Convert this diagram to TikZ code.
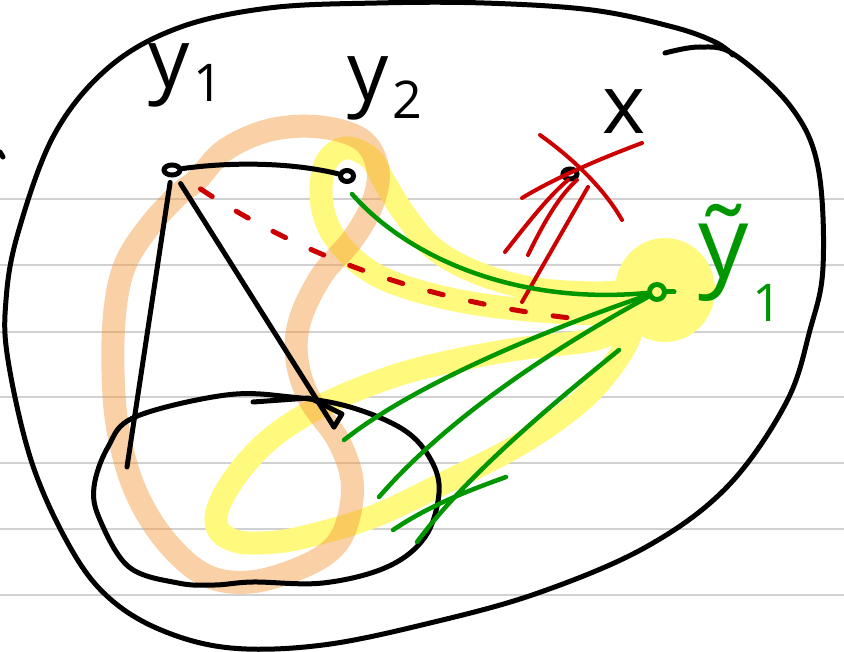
\documentclass[tikz,border=0pt]{standalone}
\usepackage{fontspec}
\setmainfont{Open Sans}
\usetikzlibrary{calc, positioning}
\usetikzlibrary{arrows.meta}
\usetikzlibrary{shapes.geometric}
\definecolor{inkgreen}{RGB}{0,150,0}
\definecolor{inkred}{RGB}{204,0,0}
\definecolor{hlyellow}{RGB}{255,250,125}
\definecolor{hlorange}{RGB}{245,150,60}
\newcommand{\lowsub}[2][14pt]{\hspace{4pt}\raisebox{-#1}{\fontsize{52}{52}\selectfont #2}}

\begin{document}
\begin{tikzpicture}[x=1pt, y=-1pt,
  ink/.style={line width=5pt, line cap=round, line join=round},
  dot/.style={ellipse, draw, line width=5pt, inner sep=0pt, minimum width=16pt, minimum height=10pt},
  hilite/.style={line width=23pt, line cap=round, line join=round},
  lbl/.style={inner sep=0pt, anchor=base west, font=\fontsize{82}{82}\selectfont},
  rule/.style={black!18, line width=1.5pt}]
\useasboundingbox (0,0) rectangle (844,652);
\foreach \ry in {199,265,332,397,463,529,595}
  \draw[rule] (0,\ry) -- (844,\ry);
% highlighter
\fill[hlyellow] (665,290) ellipse [x radius=50pt, y radius=52pt];
\draw[hilite, hlyellow] plot[smooth cycle, tension=0.6] coordinates {(650,292) (590,293) (530,288) (475,272) (433,248) (405,215) (385,183) (370,158) (345,148) (325,165) (322,205) (338,242) (380,277) (455,300) (540,311) (610,312)};
\draw[hilite, hlyellow] plot[smooth cycle, tension=0.6] coordinates {(630,325) (592,340) (511,350) (430,366) (377,382) (323,405) (275,435) (242,468) (220,503) (217,527) (232,540) (258,543) (300,538) (372,517) (442,484) (520,444) (582,400) (620,355)};
\draw[hilite, hlorange, opacity=0.45] plot[smooth cycle, tension=0.6] coordinates {(197,180) (225,150) (270,130) (320,127) (362,140) (378,170) (372,205) (352,240) (322,275) (300,320) (297,360) (310,400) (338,440) (352,480) (348,520) (333,548) (300,568) (250,582) (205,575) (165,540) (135,490) (118,430) (113,370) (115,310) (125,265) (148,228) (178,195)};
% outline
\draw[ink] plot[smooth, tension=0.6] coordinates {(665,53) (700,47) (735,55) (791,107) (818,167) (823,267) (810,330) (786,403) (727,487) (646,547) (538,593) (430,623) (323,645) (231,648) (161,630) (108,597) (70,547) (32,463) (8,360) (6,300) (18,233) (54,135) (108,68) (178,28) (269,8) (377,3) (484,3) (592,10) (673,27) (715,42) (733,55)};
\draw[ink] (0,152) -- (3,157);
\draw[ink] plot[smooth cycle, tension=0.6] coordinates {(226,395) (291,397) (350,407) (404,430) (431,460) (439,493) (425,537) (387,567) (323,583) (253,582) (215,585) (178,583) (129,567) (100,520) (94,487) (108,447) (135,417)};
\draw[ink] (253,402) -- (309,398);
% points
\node[dot] (y1) at (172,170) {};
\node[dot, minimum width=13pt, minimum height=11pt] (y2) at (347,176) {};
\node[dot, minimum width=14pt] (x) at (570,174) {};
\node[dot, circle, inkgreen, minimum size=15pt] (yt) at (657,292) {};
\coordinate (a1) at (127,467);
\coordinate (a2) at (334,427);
\coordinate (r1) at (570,318);
\coordinate (r2) at (522,302);
\coordinate (g0) at (619,350);
\coordinate (g1) at (352,194);
\coordinate (g2) at (344,440);
\coordinate (g3) at (379,497);
\coordinate (g4) at (417,542);
\coordinate (g5) at (393,530);
% black
\draw[ink] (y1) .. controls (230,162) and (290,162) .. (y2);
\draw[ink, shorten <=5pt] (y1) -- (a1);
\draw[ink, shorten <=8pt] (y1) -- (a2);
\draw[ink] (312,399) -- (342,414) -- (a2);
% red
\draw[ink, inkred, dash pattern=on 14pt off 28pt, shorten <=25pt] (y1) .. controls (300,255) and (420,300) .. (r1);
\draw[ink, inkred, line width=4pt] (r2) -- ($(x)+(18,13)$);
\draw[ink, inkred, line width=4pt] (505,252) .. controls (530,220) and (550,195) .. ($(x)+(-2,6)$);
\draw[ink, inkred, line width=4pt] (528,255) .. controls (545,220) and (560,195) .. ($(x)+(7,6)$);
\draw[ink, inkred, line width=4pt] (540,135) .. controls (575,160) and (605,190) .. (622,220);
\draw[ink, inkred, line width=4pt] (522,198) .. controls (560,175) and (610,155) .. (642,143);
% green
\draw[ink, inkgreen, line width=4.5pt] (g1) .. controls (410,260) and (520,305) .. (yt);
\draw[ink, inkgreen, line width=4.5pt] (yt) .. controls (560,325) and (420,380) .. (g2);
\draw[ink, inkgreen, line width=4.5pt] (yt) .. controls (560,345) and (450,415) .. (g3);
\draw[ink, inkgreen, line width=4.5pt] (g0) .. controls (570,390) and (470,470) .. (g4);
\draw[ink, inkgreen, line width=4.5pt] (506,477) .. controls (470,490) and (430,505) .. (g5);
\draw[ink, inkgreen] (yt.east) -- ++(7,0);
% labels
\node[lbl] (ly1) at (148,88) {y\lowsub{1}};
\node[lbl] (ly2) at (347,101) {y\lowsub[18pt]{2}};
\node[lbl] (lx) at (602,134) {x};
\node[lbl, inkgreen, font=\fontsize{100}{100}\selectfont] (lyt) at (698,278) {ỹ\lowsub[44pt]{1}};
\end{tikzpicture}
\end{document}
